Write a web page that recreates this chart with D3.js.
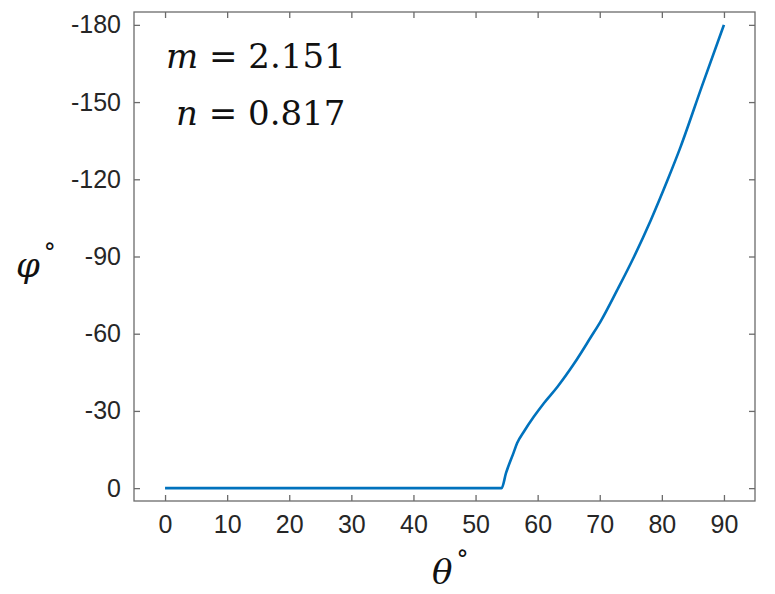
<!DOCTYPE html>
<html><head><meta charset="utf-8">
<script src="https://cdn.jsdelivr.net/npm/d3@7"></script>
<style>body{margin:0;background:#fff}</style>
</head><body>
<script>
const theta = [0, 54.2, 54.9, 56.1, 56.7, 57.8, 59.4, 61.0, 63.2, 65.9, 68.6, 70.1, 72.8, 75.5, 78.2, 80.9, 83.0, 86.5, 90];
const phi   = [0, 0, -5.8, -13.6, -17.5, -22, -27.8, -33, -39.4, -48.5, -58.8, -64.6, -76.9, -89.8, -104, -119.6, -132.5, -156.5, -180];
const xTicks = [0,10,20,30,40,50,60,70,80,90];
const yTicks = [0,-30,-60,-90,-120,-150,-180];

const W=775,H=594;
const L=134,R=755,T=12,B=501;
const svg=d3.select("body").append("svg").attr("width",W).attr("height",H);
const x=d3.scaleLinear().domain([-5,95]).range([L,R]);
const y=d3.scaleLinear().domain([5,-185]).range([B,T]);
const axisCol="#6b6b6b", txtCol="#262626";
const font="'Liberation Sans', Arial, sans-serif";

svg.append("rect").attr("x",L).attr("y",T).attr("width",R-L).attr("height",B-T)
  .attr("fill","none").attr("stroke",axisCol).attr("stroke-width",1.3);

const fmt=d=>String(d);
const gx=svg.append("g").attr("transform",`translate(0,${B})`)
  .call(d3.axisBottom(x).tickValues(xTicks).tickSize(-6).tickPadding(14).tickFormat(fmt));
const gxt=svg.append("g").attr("transform",`translate(0,${T})`)
  .call(d3.axisTop(x).tickValues(xTicks).tickSize(-6).tickFormat(""));
const gy=svg.append("g").attr("transform",`translate(${L},0)`)
  .call(d3.axisLeft(y).tickValues(yTicks).tickSize(-6).tickPadding(13).tickFormat(fmt));
const gyr=svg.append("g").attr("transform",`translate(${R},0)`)
  .call(d3.axisRight(y).tickValues(yTicks).tickSize(-6).tickFormat(""));
[gx,gxt,gy,gyr].forEach(g=>{
  g.select(".domain").remove();
  g.selectAll(".tick line").attr("stroke",axisCol).attr("stroke-width",1.3);
  g.selectAll("text").attr("fill",txtCol).style("font-family",font).style("font-size","25px");
});
gx.selectAll("text").attr("dy","0.71em");

const line=d3.line().x((d,i)=>x(theta[i])).y(d=>y(d)).curve(d3.curveMonotoneX);
svg.append("path").datum(phi).attr("d",line).attr("fill","none")
  .attr("stroke","#0072BD").attr("stroke-width",2.6);

const serif="'DejaVu Serif', 'Liberation Serif', serif";
function mathText(xp,yp,v,val){
  const t=svg.append("text").attr("x",xp).attr("y",yp).style("font-family",serif)
    .style("font-size","34px").attr("fill","#111");
  t.append("tspan").attr("font-style","italic").text(v);
  t.append("tspan").text(" = "+val);
}
mathText(166,68,"m","2.151");
mathText(176,125,"n","0.817");

const xl=svg.append("text").attr("x",432).attr("y",584).style("font-family",serif)
  .style("font-size","34px").attr("fill","#111");
xl.append("tspan").attr("font-style","italic").text("θ");
xl.append("tspan").attr("dy","-16").attr("dx","4").style("font-size","24px").text("°");
const yl=svg.append("text").attr("x",16).attr("y",277).style("font-family",serif)
  .style("font-size","34px").attr("fill","#111");
yl.append("tspan").attr("font-style","italic").text("φ");
yl.append("tspan").attr("dy","-16").attr("dx","4").style("font-size","24px").text("°");
</script>
</body></html>
